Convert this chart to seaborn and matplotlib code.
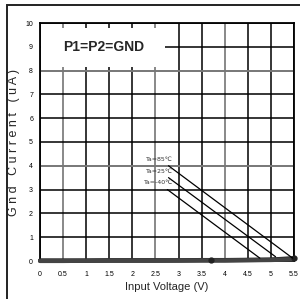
import seaborn as sns
import matplotlib.pyplot as plt
import pandas as pd
from matplotlib.patches import Rectangle

# data
voltage = [0, 0.5, 1, 1.5, 2, 2.5, 3, 3.5, 4, 4.5, 5, 5.5]
i_85 = [0.02, 0.02, 0.02, 0.03, 0.03, 0.03, 0.03, 0.04, 0.04, 0.05, 0.06, 0.12]
i_25 = [0.01, 0.01, 0.01, 0.02, 0.02, 0.02, 0.02, 0.03, 0.03, 0.04, 0.05, 0.09]
i_m40 = [0.0, 0.0, 0.01, 0.01, 0.01, 0.01, 0.02, 0.02, 0.02, 0.03, 0.04, 0.07]
labels = ['Ta=85\u2103', 'Ta=25\u2103', 'Ta=-40\u2103']
label_xy = [(2.88, 4.28), (2.88, 3.78), (2.88, 3.28)]
leader_end = [(5.47, 0.12), (5.1, 0.18), (4.76, 0.12)]
x_ticks = [0, 0.5, 1, 1.5, 2, 2.5, 3, 3.5, 4, 4.5, 5, 5.5]
x_ticklabels = ['0', '0.5', '1', '1.5', '2', '2.5', '3', '3.5', '4', '4.5', '5', '5.5']
y_ticks = list(range(0, 11))
gray_x = [0.5, 2.5, 4]
gray_y = [4, 8]

df = pd.DataFrame({'V': voltage * 3,
                   'I': i_85 + i_25 + i_m40,
                   'T': ['85'] * 12 + ['25'] * 12 + ['-40'] * 12})

sns.set_style('white')
plt.rcParams['font.family'] = ['Liberation Sans Narrow', 'Liberation Sans', 'DejaVu Sans']

fig = plt.figure(figsize=(3.0, 2.99), dpi=100)
ax = fig.add_axes([40 / 300, 1 - 261 / 299, 254 / 300, 238 / 299])

# grid
for x in x_ticks:
    c = '#888888' if x in gray_x else 'black'
    ax.axvline(x, color=c, lw=1.4 if x in gray_x else 1.1, zorder=1)
for y in y_ticks:
    c = '#777777' if y in gray_y else 'black'
    ax.axhline(y, color=c, lw=1.4 if y in gray_y else 1.1, zorder=1)

# white box behind the title
ax.add_patch(Rectangle((0.02, 8.15), 2.68, 1.65, facecolor='white',
                       edgecolor='none', zorder=2))
ax.text(1.38, 9.0, 'P1=P2=GND', ha='center', va='center', fontsize=10,
        fontweight='bold', family=['Liberation Sans', 'DejaVu Sans'], zorder=3)

sns.lineplot(data=df, x='V', y='I', hue='T', palette=['#222222', '#333333', '#444444'],
             lw=3, legend=False, ax=ax, zorder=4, clip_on=False)
ax.plot([3.7, 5.5], [0.05, 0.12], 'o', color='#222222', ms=3.5, zorder=5, clip_on=False)

for lab, (tx, ty), (ex, ey) in zip(labels, label_xy, leader_end):
    ax.annotate(lab, xy=(ex, ey), xytext=(tx, ty), fontsize=4.5, ha='right',
                va='center', color='#333333',
                family=['Liberation Sans Narrow', 'DejaVu Sans'],
                arrowprops=dict(arrowstyle='-', color='black', lw=0.9,
                                shrinkA=1, shrinkB=0), zorder=6)

ax.set_xlim(0, 5.5)
ax.set_ylim(0, 10)
ax.set_xticks(x_ticks)
ax.set_xticklabels(x_ticklabels)
ax.set_yticks(y_ticks)
ax.tick_params(axis='both', labelsize=5, colors='black', length=0, pad=7)
ax.tick_params(axis='y', length=3, width=0.8, direction='out', pad=2)
for s in ax.spines.values():
    s.set_color('black')
    s.set_linewidth(1.3)
ax.set_xlabel('Input Voltage (V)', fontsize=8, labelpad=3)
ax.set_ylabel('G n d   C u r r e n t   ( u A )', fontsize=9, labelpad=4)

# outer frame
fig.patches.append(Rectangle((7 / 300, -0.05), 1.1, 1 - 5 / 299 + 0.05,
                             transform=fig.transFigure, fill=False,
                             edgecolor='#222222', lw=1.4))

fig.savefig('out.png', dpi=100)
